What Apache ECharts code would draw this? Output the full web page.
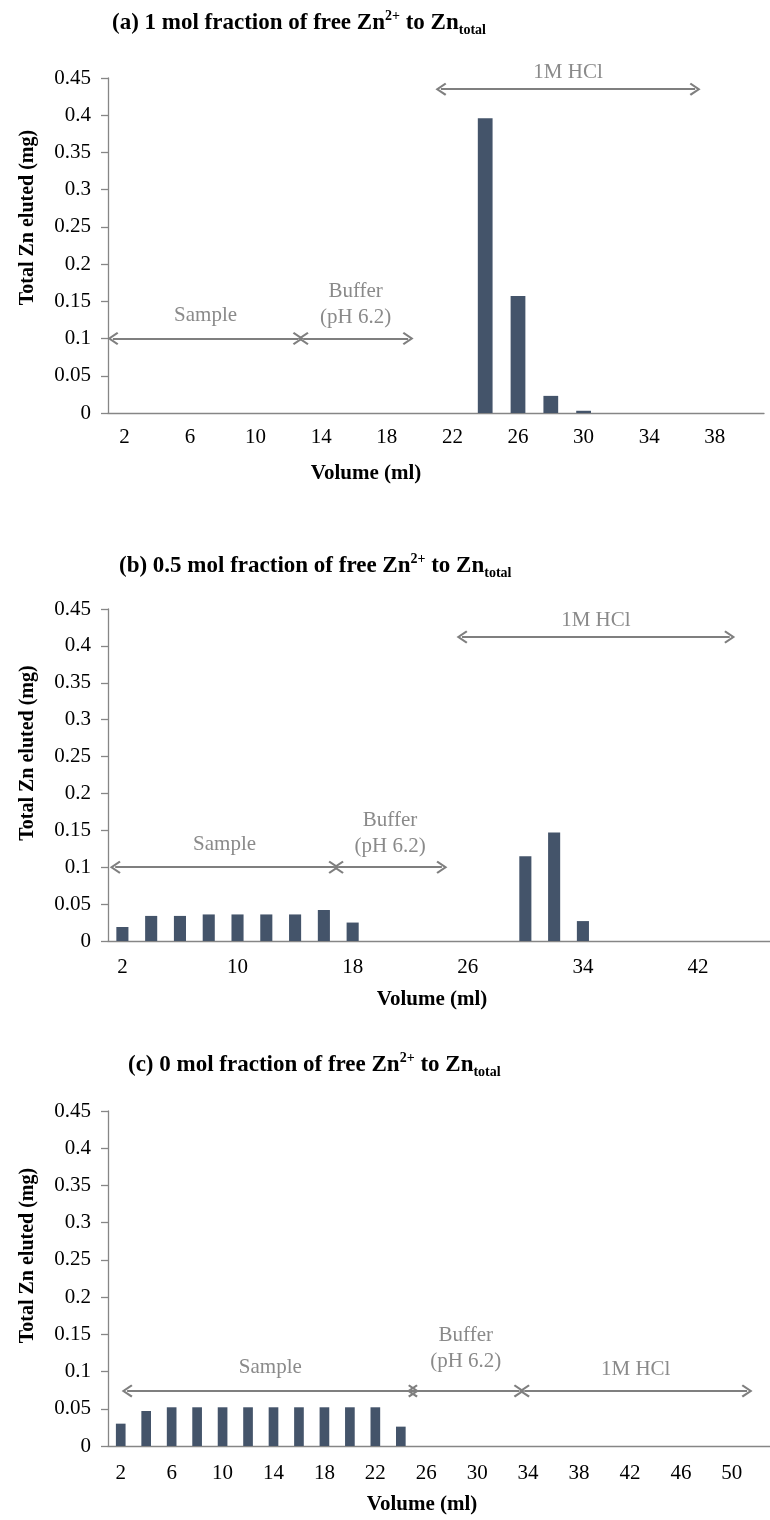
<!DOCTYPE html>
<html>
<head>
<meta charset="utf-8">
<script src="https://cdn.jsdelivr.net/npm/echarts@6/dist/echarts.min.js"></script>
<style>
html, body { margin: 0; padding: 0; background: #fff; }
#chart { width: 770px; height: 1520px; }
</style>
</head>
<body>
<div id="chart"></div>
<script>
// (a) 1 mol fraction of free Zn2+
var volA = [2, 4, 6, 8, 10, 12, 14, 16, 18, 20, 22, 24, 26, 28, 30, 32, 34, 36, 38, 40];
var znA  = [0, 0, 0, 0, 0, 0, 0, 0, 0, 0, 0, 0.396, 0.157, 0.023, 0.003, 0, 0, 0, 0, 0];

// (b) 0.5 mol fraction
var volB = [2, 4, 6, 8, 10, 12, 14, 16, 18, 20, 22, 24, 26, 28, 30, 32, 34, 36, 38, 40, 42, 44, 46];
var znB  = [0.019, 0.034, 0.034, 0.036, 0.036, 0.036, 0.036, 0.042, 0.025, 0, 0, 0, 0, 0, 0.115, 0.147, 0.027, 0, 0, 0, 0, 0, 0];

// (c) 0 mol fraction
var volC = [2, 4, 6, 8, 10, 12, 14, 16, 18, 20, 22, 24, 26, 28, 30, 32, 34, 36, 38, 40, 42, 44, 46, 48, 50, 52];
var znC  = [0.03, 0.047, 0.052, 0.052, 0.052, 0.052, 0.052, 0.052, 0.052, 0.052, 0.052, 0.026, 0, 0, 0, 0, 0, 0, 0, 0, 0, 0, 0, 0, 0, 0];

// y axis ticks
var yMin = 0, yMax = 0.45, yStep = 0.05;

// elution phases: [label, from volume, to volume, height (mg)]
var phasesA = [['Sample', 1.3, 12.6, 0.1], ['Buffer\n(pH 6.2)', 12.9, 19.3, 0.1], ['1M HCl', 21.3, 36.8, 0.435]];
var phasesB = [['Sample', 1.5, 16.7, 0.1], ['Buffer\n(pH 6.2)', 17.0, 24.2, 0.1], ['1M HCl', 25.6, 44.2, 0.412]];
var phasesC = [['Sample', 2.5, 25.0, 0.074], ['Buffer\n(pH 6.2)', 24.9, 33.3, 0.074], ['1M HCl', 33.7, 51.2, 0.074]];

var titles = [
  '{m|(a) 1 mol fraction of free Zn}{sup|2+}{m| to Zn}{sub|total}',
  '{m|(b) 0.5 mol fraction of free Zn}{sup|2+}{m| to Zn}{sub|total}',
  '{m|(c) 0 mol fraction of free Zn}{sup|2+}{m| to Zn}{sub|total}'
];

var serif = '"Liberation Serif", "Times New Roman", serif';
var axisGrey = '#868686';
var noteGrey = '#8a8a8a';
var barColor = '#44546A';
var chevron = 'path://M5,0 L10,7 L8.8,8 L5,2.6 L1.2,8 L0,7 Z';

var panels = [
  { vol: volA, zn: znA, phases: phasesA, title: titles[0],
    titleLeft: 107, titleTop: 4, top: 78, height: 335, width: 656,
    labelInterval: 1, labelMargin: 14, barWidth: '45%',
    yNamePad: 56, xNamePad: 140, xNameGap: 50, noteGap: [10, 8, 4] },
  { vol: volB, zn: znB, phases: phasesB, title: titles[1],
    titleLeft: 114, titleTop: 547, top: 609, height: 332, width: 663.5,
    labelInterval: 3, labelMargin: 16, barWidth: '42%',
    yNamePad: 44, xNamePad: 14, xNameGap: 48, noteGap: [10, 8, 4] },
  { vol: volC, zn: znC, phases: phasesC, title: titles[2],
    titleLeft: 123, titleTop: 1046, top: 1111, height: 335, width: 665.6,
    labelInterval: 1, labelMargin: 17, barWidth: '38%',
    yNamePad: 46, xNamePad: 34, xNameGap: 48, noteGap: [10, 16, 8] }
];

var option = {
  animation: false,
  backgroundColor: '#fff',
  title: [], grid: [], xAxis: [], yAxis: [], series: []
};

panels.forEach(function (p, i) {
  option.title.push({
    text: p.title, left: p.titleLeft, top: p.titleTop,
    textStyle: {
      rich: {
        m: { fontFamily: serif, fontWeight: 'bold', fontSize: 23, lineHeight: 28, color: '#000' },
        sup: { fontFamily: serif, fontWeight: 'bold', fontSize: 14, verticalAlign: 'top', lineHeight: 28, color: '#000' },
        sub: { fontFamily: serif, fontWeight: 'bold', fontSize: 14, verticalAlign: 'bottom', lineHeight: 23, color: '#000' }
      }
    }
  });
  option.grid.push({ left: 108, top: p.top, width: p.width, height: p.height, containLabel: false });

  // category axis for the bars
  option.xAxis.push({
    type: 'category', gridIndex: i, data: p.vol, boundaryGap: true,
    name: 'Volume (ml)', nameLocation: 'middle', nameGap: p.xNameGap,
    nameTextStyle: { fontFamily: serif, fontWeight: 'bold', fontSize: 21, color: '#000', padding: [0, p.xNamePad, 0, 0] },
    axisLine: { lineStyle: { color: axisGrey, width: 1.3 } },
    axisTick: { interval: 0, length: 6, lineStyle: { color: axisGrey, width: 1.3 } },
    axisLabel: { interval: p.labelInterval, margin: p.labelMargin, fontFamily: serif, fontSize: 21, color: '#000' },
    splitLine: { show: false }
  });
  // hidden value axis (volume) for the phase arrows
  option.xAxis.push({
    type: 'value', gridIndex: i, show: false,
    min: p.vol[0] - 1, max: p.vol[p.vol.length - 1] + 1
  });
  option.yAxis.push({
    type: 'value', gridIndex: i, min: yMin, max: yMax, interval: yStep,
    name: 'Total Zn eluted (mg)', nameLocation: 'middle', nameGap: 70,
    nameTextStyle: { fontFamily: serif, fontWeight: 'bold', fontSize: 20, color: '#000', padding: [0, 0, 0, p.yNamePad] },
    axisLine: { show: true, lineStyle: { color: axisGrey, width: 1.3 } },
    axisTick: { show: true, length: 7, lineStyle: { color: axisGrey, width: 1.3 } },
    axisLabel: { margin: 17, fontFamily: serif, fontSize: 21, color: '#000' },
    splitLine: { show: false }
  });

  option.series.push({
    type: 'bar', xAxisIndex: i * 2, yAxisIndex: i, data: p.zn,
    barWidth: p.barWidth, itemStyle: { color: barColor }, silent: true
  });

  option.series.push({
    type: 'line', xAxisIndex: i * 2 + 1, yAxisIndex: i, data: [],
    markLine: {
      silent: true, animation: false,
      symbol: [chevron, chevron], symbolSize: [13, 11],
      lineStyle: { color: '#7f7f7f', width: 2, type: 'solid' },
      label: {
        show: true, position: 'middle', formatter: '{b}',
        fontFamily: serif, fontSize: 21, lineHeight: 26, color: noteGrey
      },
      data: p.phases.map(function (ph, k) {
        return [
          { coord: [ph[1], ph[3]], name: ph[0], label: { distance: p.noteGap[k] } },
          { coord: [ph[2], ph[3]] }
        ];
      })
    }
  });
});

var chart = echarts.init(document.getElementById('chart'));
chart.setOption(option);
</script>
</body>
</html>
